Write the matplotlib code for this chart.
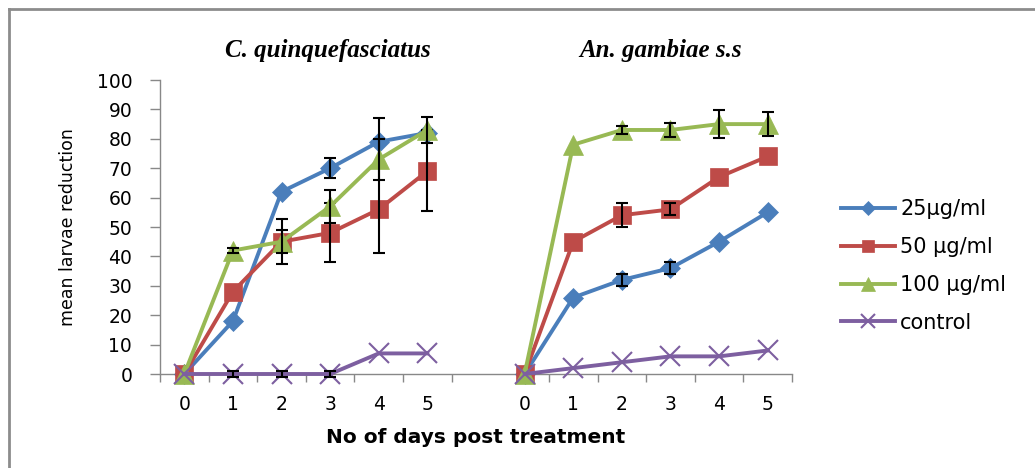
import numpy as np
import matplotlib
matplotlib.use("Agg")
from matplotlib import pyplot as plt
from matplotlib.lines import Line2D

# ---- data ----
days = [0, 1, 2, 3, 4, 5]
species = ["C. quinquefasciatus", "An. gambiae s.s"]
series_names = ["25\u00b5g/ml", "50 \u00b5g/ml", "100 \u00b5g/ml", "control"]

# C. quinquefasciatus
cq_25 = [0, 18, 62, 70, 79, 82]
cq_50 = [0, 28, 45, 48, 56, 69]
cq_100 = [0, 42, 45, 57, 73, 83]
cq_ctrl = [0, 0, 0, 0, 7, 7]
cq_25_err = [0, 0, 0, 3.4, 8, 1]
cq_50_err = [0, 0, 7.7, 10, 15, 13.5]
cq_100_err = [0, 1, 4, 5.5, 7, 4.3]
cq_ctrl_err = [0, 1, 1, 1, 0, 0]

# An. gambiae s.s
ag_25 = [0, 26, 32, 36, 45, 55]
ag_50 = [0, 45, 54, 56, 67, 74]
ag_100 = [0, 78, 83, 83, 85, 85]
ag_ctrl = [0, 2, 4, 6, 6, 8]
ag_25_err = [0, 0, 2, 2, 0, 0]
ag_50_err = [0, 0, 4, 2, 0, 0]
ag_100_err = [0, 0, 1.5, 2.5, 4.7, 4.2]
ag_ctrl_err = [0, 0, 0, 0, 0, 0]

colors = ["#4a7ebb", "#be4b48", "#98b954", "#7d5fa0"]
markers = ["D", "s", "^", "x"]
msizes = [10, 13, 14, 14]

groups = [
    [(cq_25, cq_25_err), (cq_50, cq_50_err), (cq_100, cq_100_err), (cq_ctrl, cq_ctrl_err)],
    [(ag_25, ag_25_err), (ag_50, ag_50_err), (ag_100, ag_100_err), (ag_ctrl, ag_ctrl_err)],
]

fig = plt.figure(figsize=(10.35, 4.68), dpi=100)
ax = fig.add_axes([160 / 1035, 1 - 374 / 468, 632 / 1035, 294 / 468])

# second group shifted by one empty category
offsets = [0, len(days) + 1]
for g, off in enumerate(offsets):
    x = np.array(days) + off
    for i, (vals, err) in enumerate(groups[g]):
        mew = 1.5 if markers[i] == "x" else 0.5
        ax.plot(x, vals, color=colors[i], lw=2.8, marker=markers[i],
                ms=msizes[i], mew=mew, mec=colors[i], zorder=3 + i, clip_on=False)
        e = np.array(err, dtype=float)
        mask = e > 0
        ax.errorbar(x[mask], np.array(vals)[mask], yerr=e[mask], fmt="none",
                    ecolor="black", elinewidth=1.5, capsize=4, capthick=1.5,
                    zorder=3 + i, clip_on=False)

ax.set_xlim(-0.5, 2 * len(days) + 0.5)
ax.set_ylim(0, 100)
ax.set_yticks(range(0, 101, 10))

all_x = list(days) + [d + offsets[1] for d in days]
ax.set_xticks(all_x)
ax.set_xticklabels([str(d) for d in days] * 2)
ax.tick_params(axis="x", length=0, pad=15)
bounds = [b - 0.5 for b in range(len(days) + 1)] + \
         [b - 0.5 + offsets[1] + 1 for b in range(len(days))]
ax.set_xticks(bounds, minor=True)
ax.tick_params(axis="x", which="minor", length=6, color="#888888", width=1)
ax.tick_params(axis="y", length=7, color="#888888", width=1, pad=13)

for lab in ax.get_xticklabels() + ax.get_yticklabels():
    lab.set_fontfamily("DejaVu Sans")
    lab.set_fontsize(13.5)

for s in ["top", "right"]:
    ax.spines[s].set_visible(False)
for s in ["left", "bottom"]:
    ax.spines[s].set_color("#888888")
    ax.spines[s].set_linewidth(1)

ax.set_ylabel("mean larvae reduction", fontfamily="DejaVu Sans", fontsize=12.5, labelpad=14)
ax.set_xlabel("No of days post treatment", fontfamily="DejaVu Sans", fontsize=14.5,
              fontweight="bold", labelpad=10)

# species titles
title_x = [2.95, offsets[1] + 2.8]
for g in range(len(species)):
    ax.text(title_x[g], 110, species[g], ha="center", va="center",
            fontfamily="Liberation Serif", fontstyle="italic", fontweight="bold",
            fontsize=18)

handles = [Line2D([0], [0], color=colors[i], lw=2.8, marker=markers[i],
                  ms=msizes[i] * 0.7, mew=1.5 if markers[i] == "x" else 0.5,
                  mec=colors[i]) for i in range(4)]
fig.legend(handles, series_names, loc="center left", bbox_to_anchor=(822 / 1035, 1 - 266 / 468),
           frameon=False, prop={"family": "DejaVu Sans", "size": 15}, handlelength=2.6,
           labelspacing=0.85, handletextpad=0.25)

# outer frame (left and top edges)
fig.add_artist(Line2D([9 / 1035, 9 / 1035], [0, 1 - 9 / 468], color="#8c8c8c", lw=2,
                      transform=fig.transFigure))
fig.add_artist(Line2D([9 / 1035, 1], [1 - 9 / 468, 1 - 9 / 468], color="#8c8c8c", lw=2,
                      transform=fig.transFigure))

fig.savefig("out.png", dpi=100)
